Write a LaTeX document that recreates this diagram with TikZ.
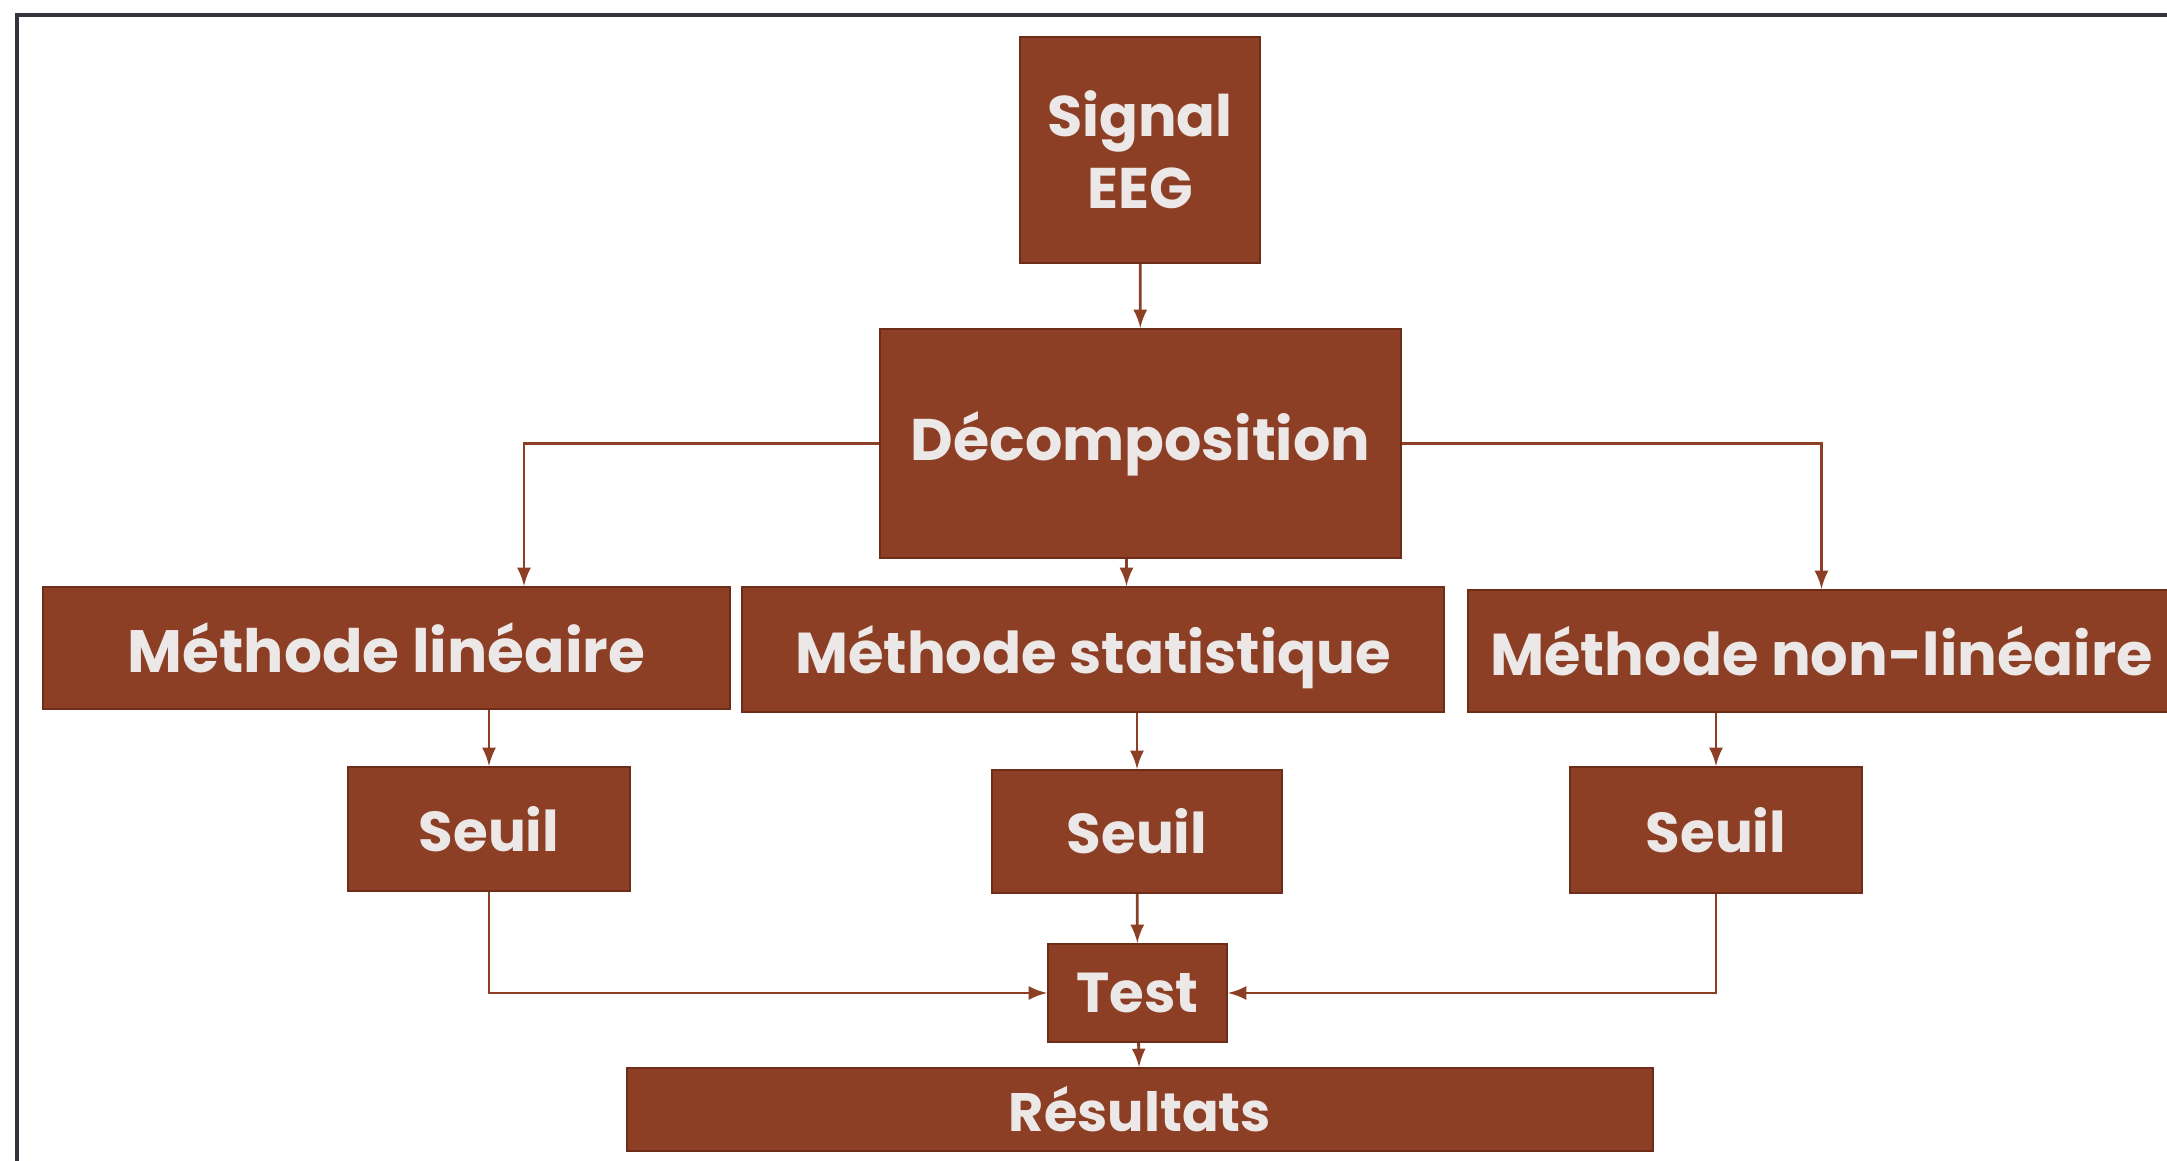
\documentclass[tikz,border=0pt]{standalone}
\usepackage{fontspec}
\setmainfont{Poppins}
\usepackage{xcolor}
\usetikzlibrary{arrows,positioning,shapes}

\definecolor{boxbrown}{RGB}{140,63,36}
\definecolor{boxedge}{RGB}{110,45,25}
\definecolor{txtgray}{RGB}{236,232,232}
\definecolor{framegray}{RGB}{50,54,60}

\begin{document}
\begin{tikzpicture}[
    bloc/.style={rectangle, fill=boxbrown, draw=boxedge, line width=0.6pt,
        text=txtgray, inner sep=0pt, align=center,
        font=\fontsize{16}{20}\selectfont\bfseries},
    arr/.style={->, >=latex, draw=boxbrown, line width=0.8pt}
]
    \useasboundingbox (0,0) rectangle (21.67,-11.61);
    \clip (0,0) rectangle (21.67,-11.61);

    % cadre
    \draw[framegray, line width=1.2pt] (0.17,-11.7) -- (0.17,-0.15) -- (21.8,-0.15);

    % niveau 0
    \node[bloc, minimum width=2.4cm, minimum height=2.26cm,
        font=\fontsize{16.3}{20.5}\selectfont\bfseries] (sig) at (11.40,-1.50) {Signal\\EEG};
    \node[bloc, minimum width=5.21cm, minimum height=2.29cm,
        font=\fontsize{16.7}{20}\selectfont\bfseries] (dec) at (11.405,-4.435) {Décomposition};

    % méthodes
    \node[bloc, minimum width=6.87cm, minimum height=1.22cm,
        font=\fontsize{17}{20}\selectfont\bfseries] (lin) at (3.865,-6.48) {Méthode linéaire};
    \node[bloc, minimum width=7.02cm, minimum height=1.25cm, text depth=0pt,
        font=\fontsize{16.4}{20}\selectfont\bfseries] (stat) at (10.93,-6.495) {Méthode statistique};
    \node[bloc, minimum width=7.07cm, minimum height=1.22cm,
        font=\fontsize{16.8}{20}\selectfont\bfseries] (nlin) at (18.215,-6.51) {Méthode non-linéaire};

    % seuils
    \node[bloc, minimum width=2.82cm, minimum height=1.24cm] (s1) at (4.89,-8.29) {Seuil};
    \node[bloc, minimum width=2.90cm, minimum height=1.23cm] (s2) at (11.37,-8.315) {Seuil};
    \node[bloc, minimum width=2.92cm, minimum height=1.26cm] (s3) at (17.16,-8.30) {Seuil};

    % test et résultats
    \node[bloc, minimum width=1.79cm, minimum height=0.98cm] (test) at (11.375,-9.93) {Test};
    \node[bloc, minimum width=10.26cm, minimum height=0.83cm,
        font=\fontsize{15.4}{20}\selectfont\bfseries] (res) at (11.40,-11.095) {Résultats};

    % liaisons
    \draw[arr] (sig) -- (dec);
    \draw[arr] (dec.west) -| ([xshift=1.375cm]lin.north);
    \draw[arr] (dec.east) -| (nlin.north);
    \draw[arr] ([xshift=-0.14cm]dec.south) -- ([xshift=-0.14cm]dec.south |- stat.north);
    \draw[arr] (lin.south -| s1.north) -- (s1.north);
    \draw[arr] (stat.south -| s2.north) -- (s2.north);
    \draw[arr] (nlin.south -| s3.north) -- (s3.north);
    \draw[arr] (s1.south) |- (test.west);
    \draw[arr] (s3.south) |- (test.east);
    \draw[arr] (s2) -- (test);
    \draw[arr] (test) -- (res);
\end{tikzpicture}
\end{document}
